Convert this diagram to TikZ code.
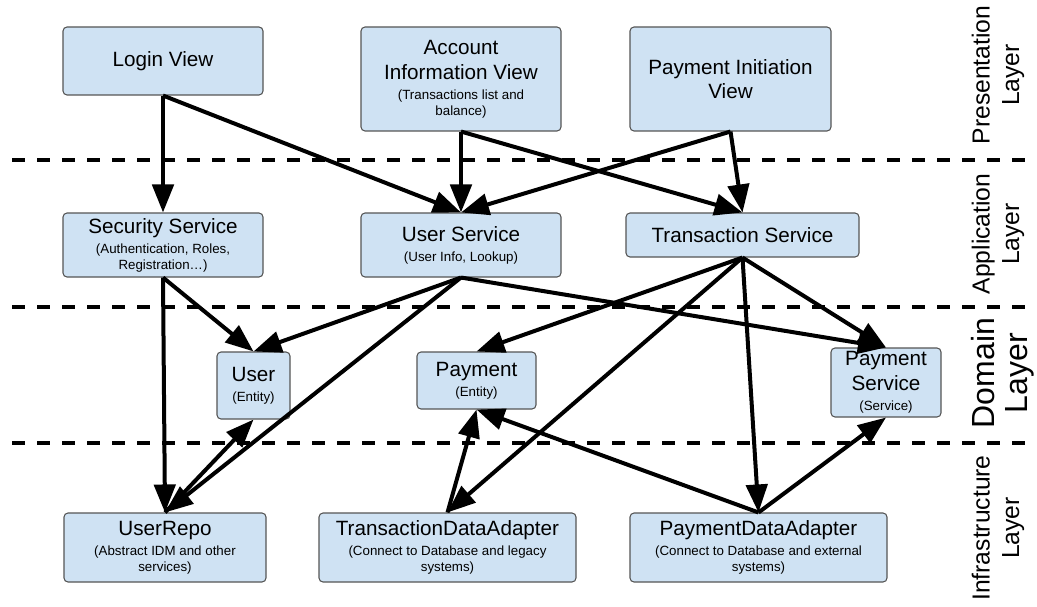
\documentclass[tikz,border=0pt]{standalone}
\usepackage{fontspec}
\setmainfont{Liberation Sans}
\usetikzlibrary{arrows.meta}
\definecolor{boxfill}{HTML}{CFE2F3}
\definecolor{boxline}{HTML}{555555}
\newcommand{\subtxt}[1]{{\fontsize{10}{12}\selectfont #1}}

\begin{document}
\begin{tikzpicture}[x=0.75pt,y=0.75pt,yscale=-1,xscale=1,
    box/.style={draw=boxline, fill=boxfill, line width=0.8pt, rounded corners=3pt,
        align=center, inner sep=0pt, font=\fontsize{15.5}{18.5}\selectfont},
    link/.style={line width=3pt, -{Triangle[length=21pt,width=16pt]}},
    layer/.style={rotate=90, align=center, font=\fontsize{18.5}{22}\selectfont},
    divider/.style={line width=2.6pt, dash pattern=on 9.75pt off 9pt}]
            \useasboundingbox (0,0) rectangle (1037,606);

            % Layer borders
            \draw[divider] (12,160) -- (1030,160);
            \draw[divider] (12,307) -- (1030,307);
            \draw[divider] (12,443) -- (1030,443);

            % Presentation
            \draw (163,61) node [box, minimum width=150pt, minimum height=51pt] (login) {Login View};
            \draw (461,79) node [box, minimum width=150pt, minimum height=78pt] (acctview) {Account\\Information View\\[-3.5pt]\subtxt{(Transactions list and}\\[-6.5pt]\subtxt{balance)}};
            \draw (730.5,79) node [box, minimum width=150.75pt, minimum height=78pt] (payview) {Payment Initiation\\View};

            % Application
            \draw (163,245) node [box, minimum width=150pt, minimum height=48pt] (secsvc) {Security Service\\[-3.5pt]\subtxt{(Authentication, Roles,}\\[-6.5pt]\subtxt{Registration…)}};
            \draw (461,245) node [box, minimum width=150pt, minimum height=48pt] (usersvc) {User Service\\[-3.5pt]\subtxt{(User Info, Lookup)}};
            \draw (742.5,235) node [box, minimum width=174.75pt, minimum height=33pt] (txsvc) {Transaction Service};

            % Domain
            \draw (253.5,385.5) node [box, minimum width=54.75pt, minimum height=50.25pt] (user) {User\\[-3.5pt]\subtxt{(Entity)}};
            \draw (476.5,380.5) node [box, minimum width=89.25pt, minimum height=42.75pt] (payment) {Payment\\[-3.5pt]\subtxt{(Entity)}};
            \draw (886,382.5) node [box, minimum width=82.5pt, minimum height=51.75pt] (paysvc) {Payment\\Service\\[-3.5pt]\subtxt{(Service)}};

            % Infrastructure
            \draw (165,547.5) node [box, minimum width=151.5pt, minimum height=51.75pt] (userrepo) {UserRepo\\[-3.5pt]\subtxt{(Abstract IDM and other}\\[-6.5pt]\subtxt{services)}};
            \draw (447.5,547.5) node [box, minimum width=192.75pt, minimum height=51.75pt] (txadapter) {TransactionDataAdapter\\[-3.5pt]\subtxt{(Connect to Database and legacy}\\[-6.5pt]\subtxt{systems)}};
            \draw (758.5,547.5) node [box, minimum width=192.75pt, minimum height=51.75pt] (payadapter) {PaymentDataAdapter\\[-3.5pt]\subtxt{(Connect to Database and external}\\[-6.5pt]\subtxt{systems)}};

            % Arrows
            \draw[link] (login.south) -- (secsvc.north);
            \draw[link] (login.south) -- (usersvc.north);
            \draw[link] (acctview.south) -- (usersvc.north);
            \draw[link] (acctview.south) -- (txsvc.north);
            \draw[link] (payview.south) -- (usersvc.north);
            \draw[link] (payview.south) -- (txsvc.north);
            \draw[link] (secsvc.south) -- (user.north);
            \draw[link] (secsvc.south) -- (userrepo.north);
            \draw[link] (usersvc.south) -- (user.north);
            \draw[link] (usersvc.south) -- (userrepo.north);
            \draw[link] (usersvc.south) -- (paysvc.north);
            \draw[link] (txsvc.south) -- (payment.north);
            \draw[link] (txsvc.south) -- (txadapter.north);
            \draw[link] (txsvc.south) -- (payadapter.north);
            \draw[link] (txsvc.south) -- (paysvc.north);
            \draw[link] (userrepo.north) -- (user.south);
            \draw[link] (txadapter.north) -- (payment.south);
            \draw[link] (payadapter.north) -- (payment.south);
            \draw[link] (payadapter.north) -- (paysvc.south);

            % Layer names
            \draw (998,75) node [layer] (presname) {Presentation\\Layer};
            \draw (998,234) node [layer] (appname) {Application\\Layer};
            \draw (1003,373) node [layer, font=\fontsize{24}{25}\selectfont] (domname) {Domain\\Layer};
            \draw (998,528) node [layer] (infname) {Infrastructure\\Layer};

            \end{tikzpicture}
\end{document}
